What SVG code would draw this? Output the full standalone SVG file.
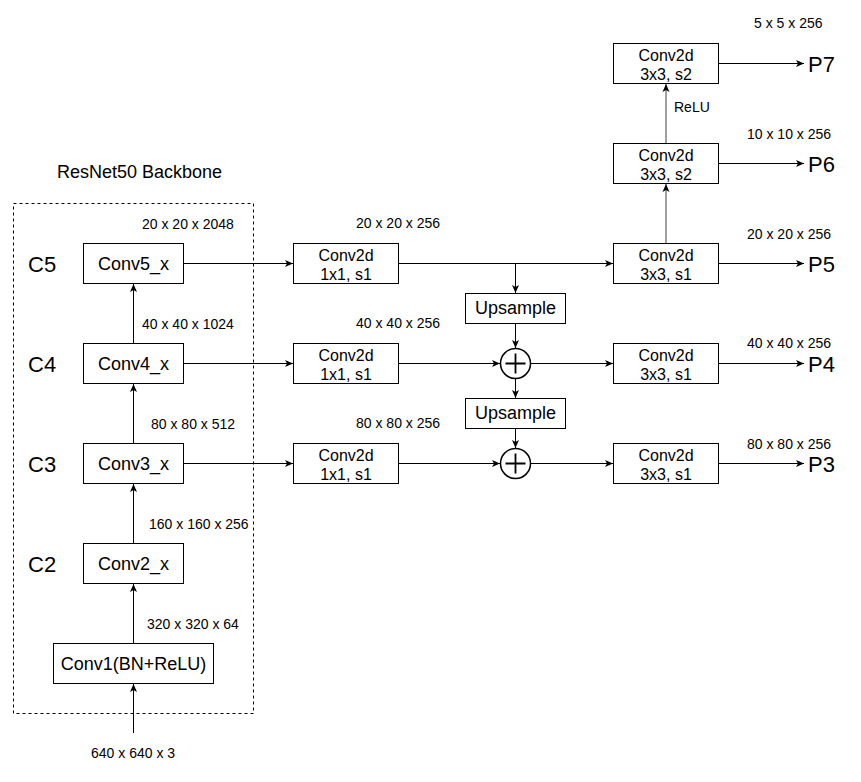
<svg xmlns="http://www.w3.org/2000/svg" width="861" height="782" viewBox="0 0 861 782">
<style>
.box{fill:#fff;stroke:#000;stroke-width:1}
.t{font-family:"Liberation Sans",Arial,sans-serif;fill:#000}
.n18{font-size:18px;text-anchor:middle}
.n16{font-size:16px;text-anchor:middle}
.s{font-size:14px}
.big{font-size:22px}
.ln{stroke:#000;stroke-width:1;fill:none}
.gr{stroke:#808080;stroke-width:1.5;fill:none}
</style>
<defs>
<marker id="ah" markerUnits="userSpaceOnUse" markerWidth="10" markerHeight="8" refX="8" refY="4" orient="auto">
<path d="M0,0.5 L8,4 L0,7.5 L2,4 z" fill="#000"/>
</marker>
</defs>
<rect x="13.5" y="203.5" width="240" height="510" fill="none" stroke="#000" stroke-dasharray="3,3"/>
<text class="t" x="57" y="178" font-size="18">ResNet50 Backbone</text>
<g id="connectors">
<line class="ln" x1="133.5" y1="733" x2="133.5" y2="684" marker-end="url(#ah)"/>
<line class="ln" x1="133.5" y1="643" x2="133.5" y2="584" marker-end="url(#ah)"/>
<line class="ln" x1="133.5" y1="543" x2="133.5" y2="484" marker-end="url(#ah)"/>
<line class="ln" x1="133.5" y1="443" x2="133.5" y2="384" marker-end="url(#ah)"/>
<line class="ln" x1="133.5" y1="343" x2="133.5" y2="284" marker-end="url(#ah)"/>
<line class="ln" x1="183" y1="263.5" x2="293" y2="263.5" marker-end="url(#ah)"/>
<line class="ln" x1="183" y1="363.5" x2="293" y2="363.5" marker-end="url(#ah)"/>
<line class="ln" x1="183" y1="463.5" x2="293" y2="463.5" marker-end="url(#ah)"/>
<line class="ln" x1="398" y1="263.5" x2="613" y2="263.5" marker-end="url(#ah)"/>
<line class="ln" x1="515.5" y1="263.5" x2="515.5" y2="293" marker-end="url(#ah)"/>
<line class="ln" x1="515.5" y1="323" x2="515.5" y2="348" marker-end="url(#ah)"/>
<line class="ln" x1="515.5" y1="378" x2="515.5" y2="398" marker-end="url(#ah)"/>
<line class="ln" x1="515.5" y1="428" x2="515.5" y2="448" marker-end="url(#ah)"/>
<line class="ln" x1="398" y1="363.5" x2="500" y2="363.5" marker-end="url(#ah)"/>
<line class="ln" x1="398" y1="463.5" x2="500" y2="463.5" marker-end="url(#ah)"/>
<line class="ln" x1="530" y1="363.5" x2="613" y2="363.5" marker-end="url(#ah)"/>
<line class="ln" x1="530" y1="463.5" x2="613" y2="463.5" marker-end="url(#ah)"/>
<line class="gr" x1="666" y1="243" x2="666" y2="184" marker-end="url(#ah)"/>
<line class="gr" x1="666" y1="143" x2="666" y2="84" marker-end="url(#ah)"/>
<line class="ln" x1="718" y1="63.5" x2="804" y2="63.5" marker-end="url(#ah)"/>
<line class="ln" x1="718" y1="163.5" x2="804" y2="163.5" marker-end="url(#ah)"/>
<line class="ln" x1="718" y1="263.5" x2="804" y2="263.5" marker-end="url(#ah)"/>
<line class="ln" x1="718" y1="363.5" x2="804" y2="363.5" marker-end="url(#ah)"/>
<line class="ln" x1="718" y1="463.5" x2="804" y2="463.5" marker-end="url(#ah)"/>
</g>
<g id="conv1"><rect class="box" x="53.5" y="643.5" width="160" height="40"/><text class="t n18" x="133.5" y="670">Conv1(BN+ReLU)</text></g>
<g id="conv2"><rect class="box" x="83.5" y="543.5" width="100" height="40"/><text class="t n18" x="133.5" y="570">Conv2_x</text></g>
<g id="conv3"><rect class="box" x="83.5" y="443.5" width="100" height="40"/><text class="t n18" x="133.5" y="470">Conv3_x</text></g>
<g id="conv4"><rect class="box" x="83.5" y="343.5" width="100" height="40"/><text class="t n18" x="133.5" y="370">Conv4_x</text></g>
<g id="conv5"><rect class="box" x="83.5" y="243.5" width="100" height="40"/><text class="t n18" x="133.5" y="270">Conv5_x</text></g>
<g id="lat5"><rect class="box" x="293.5" y="243.5" width="105" height="40"/><text class="t n16" x="346" y="261">Conv2d</text><text class="t n16" x="346" y="279.5">1x1, s1</text></g>
<g id="lat4"><rect class="box" x="293.5" y="343.5" width="105" height="40"/><text class="t n16" x="346" y="361">Conv2d</text><text class="t n16" x="346" y="379.5">1x1, s1</text></g>
<g id="lat3"><rect class="box" x="293.5" y="443.5" width="105" height="40"/><text class="t n16" x="346" y="461">Conv2d</text><text class="t n16" x="346" y="479.5">1x1, s1</text></g>
<g id="up1"><rect class="box" x="465.5" y="293.5" width="100" height="30"/><text class="t n18" x="515.5" y="314" font-size="17">Upsample</text></g>
<g id="up2"><rect class="box" x="465.5" y="398.5" width="100" height="30"/><text class="t n18" x="515.5" y="419" font-size="17">Upsample</text></g>
<g id="add1"><circle cx="515.5" cy="363.5" r="15" fill="#fff" stroke="#000" stroke-width="1.5"/><path d="M505.5,363.5 H525.5 M515.5,353.5 V373.5" stroke="#000" stroke-width="1.8"/></g>
<g id="add2"><circle cx="515.5" cy="463.5" r="15" fill="#fff" stroke="#000" stroke-width="1.5"/><path d="M505.5,463.5 H525.5 M515.5,453.5 V473.5" stroke="#000" stroke-width="1.8"/></g>
<g id="p7box"><rect class="box" x="613.5" y="43.5" width="105" height="40"/><text class="t n16" x="666" y="61">Conv2d</text><text class="t n16" x="666" y="79.5">3x3, s2</text></g>
<g id="p6box"><rect class="box" x="613.5" y="143.5" width="105" height="40"/><text class="t n16" x="666" y="161">Conv2d</text><text class="t n16" x="666" y="179.5">3x3, s2</text></g>
<g id="p5box"><rect class="box" x="613.5" y="243.5" width="105" height="40"/><text class="t n16" x="666" y="261">Conv2d</text><text class="t n16" x="666" y="279.5">3x3, s1</text></g>
<g id="p4box"><rect class="box" x="613.5" y="343.5" width="105" height="40"/><text class="t n16" x="666" y="361">Conv2d</text><text class="t n16" x="666" y="379.5">3x3, s1</text></g>
<g id="p3box"><rect class="box" x="613.5" y="443.5" width="105" height="40"/><text class="t n16" x="666" y="461">Conv2d</text><text class="t n16" x="666" y="479.5">3x3, s1</text></g>
<g id="labels">
<text class="t big" x="28" y="272">C5</text>
<text class="t big" x="28" y="372">C4</text>
<text class="t big" x="28" y="472">C3</text>
<text class="t big" x="28" y="572">C2</text>
<text class="t big" x="808" y="72">P7</text>
<text class="t big" x="808" y="172">P6</text>
<text class="t big" x="808" y="272">P5</text>
<text class="t big" x="808" y="372">P4</text>
<text class="t big" x="808" y="472">P3</text>
<text class="t s" x="142" y="229">20 x 20 x 2048</text>
<text class="t s" x="142" y="329">40 x 40 x 1024</text>
<text class="t s" x="151" y="429">80 x 80 x 512</text>
<text class="t s" x="149" y="529">160 x 160 x 256</text>
<text class="t s" x="147" y="629">320 x 320 x 64</text>
<text class="t s" x="91" y="758">640 x 640 x 3</text>
<text class="t s" x="356" y="228">20 x 20 x 256</text>
<text class="t s" x="356" y="328">40 x 40 x 256</text>
<text class="t s" x="356" y="428">80 x 80 x 256</text>
<text class="t s" x="754" y="28">5 x 5 x 256</text>
<text class="t s" x="747" y="139">10 x 10 x 256</text>
<text class="t s" x="747" y="239">20 x 20 x 256</text>
<text class="t s" x="747" y="348">40 x 40 x 256</text>
<text class="t s" x="747" y="449">80 x 80 x 256</text>
<text class="t s" x="674" y="112">ReLU</text>
</g>
</svg>
